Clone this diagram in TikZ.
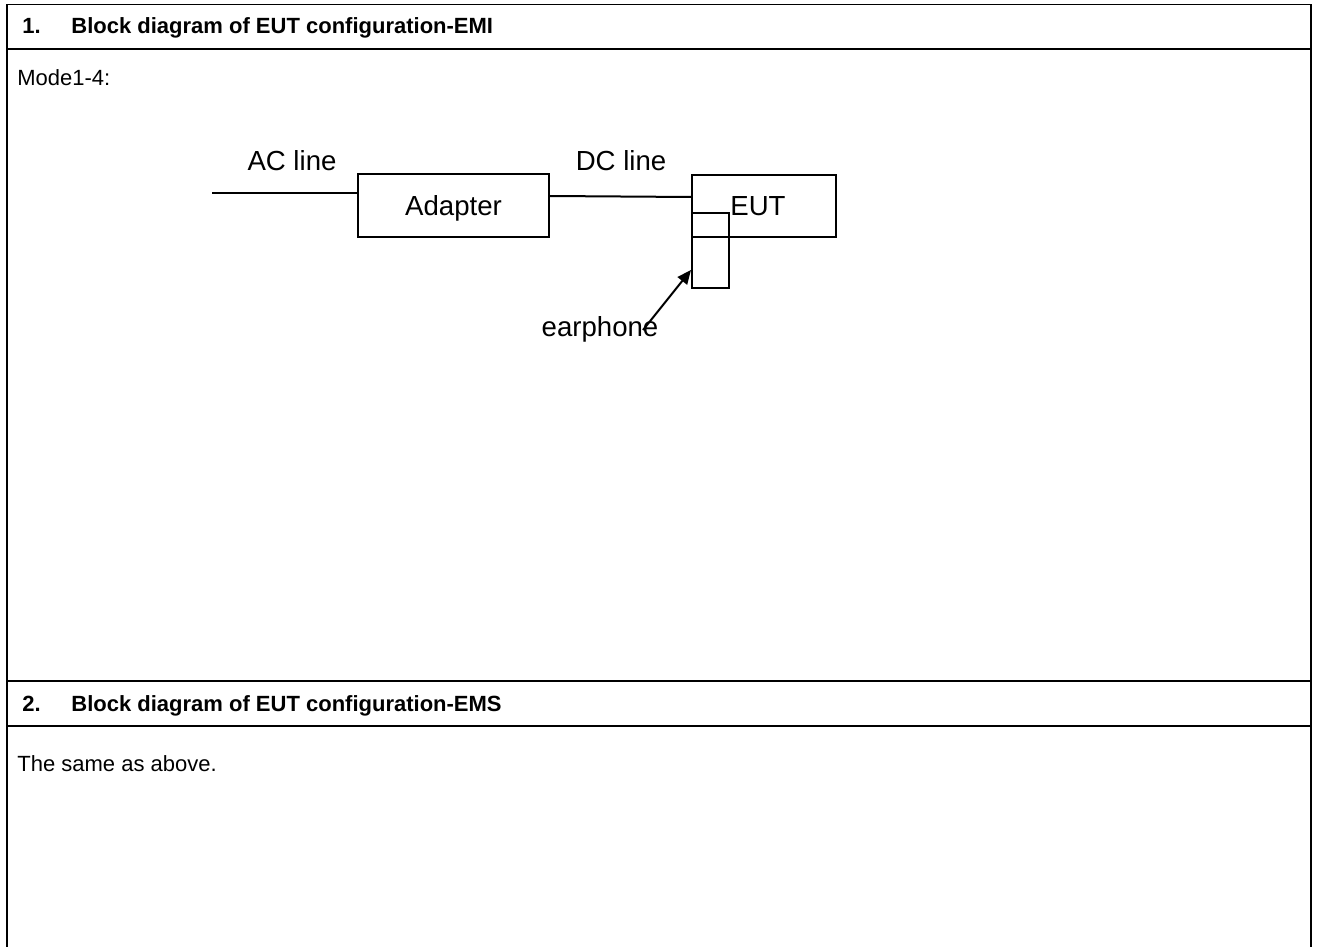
\documentclass[tikz,border=0pt]{standalone}
\usepackage{fontspec}
\setmainfont{Liberation Sans}
\usetikzlibrary{arrows.meta}

\tikzset{
    frame/.style={line width=0.75pt, draw=black},
    blockbox/.style={shape=rectangle, draw=black, line width=1pt, inner sep=0pt, text depth=0pt},
    wire/.style={line width=1pt},
    lbl/.style={font=\fontsize{13.8}{16}\selectfont, inner sep=0pt, anchor=base},
    bodytext/.style={font=\fontsize{11}{13}\selectfont, inner sep=0pt, anchor=base west},
    headtext/.style={font=\fontsize{11}{13}\selectfont\bfseries, inner sep=0pt, anchor=base west},
}

\begin{document}
\begin{tikzpicture}[x=0.5pt, y=-0.5pt]
    \useasboundingbox (0,0) rectangle (1318,947);
    % table frame
    \draw[frame] (7,947) -- (7,4.5) -- (1311,4.5) -- (1311,947);
    \draw[frame] (7,49) -- (1311,49);
    \draw[frame] (7,681) -- (1311,681);
    \draw[frame] (7,726) -- (1311,726);
    \node[headtext] at (22,34) (H1) {\makebox[24.5pt][l]{1.}Block diagram of EUT configuration-EMI};
    \node[bodytext] at (17,86) (M1) {Mode1-4:};
    \node[headtext] at (22,711) (H2) {\makebox[24.5pt][l]{2.}Block diagram of EUT configuration-EMS};
    \node[bodytext] at (17,771) (S2) {The same as above.};
    % blocks
    \node[blockbox, minimum width=95.5pt, minimum height=31.5pt, font=\fontsize{13.8}{16}\selectfont] at (453.5,205.5) (Adapter) {Adapter};
    \node[blockbox, minimum width=72pt, minimum height=31pt, font=\fontsize{13.8}{16}\selectfont] at (764,206) (EUT) {EUT\kern6pt};
    \node[blockbox, minimum width=18.5pt, minimum height=37.5pt] at (710.5,250.5) (Jack) {};
    \node[lbl] at (292,170) (AClbl) {AC line};
    \node[lbl] at (621,170) (DClbl) {DC line};
    \node[lbl, anchor=center] at (600,329) (Earphone) {earphone};
    \coordinate (ACin) at (212,193);
    \draw[wire] (ACin) -- (ACin -| Adapter.west);
    \draw[wire] ([yshift=4.75pt]Adapter.east) -- ([yshift=4.5pt]EUT.west);
    \path [wire, -{Triangle[length=7pt, width=6pt]}] ([xshift=21.5pt, yshift=-0.5pt]Earphone.center) edge ([yshift=-9.75pt]Jack.west);
\end{tikzpicture}
\end{document}
